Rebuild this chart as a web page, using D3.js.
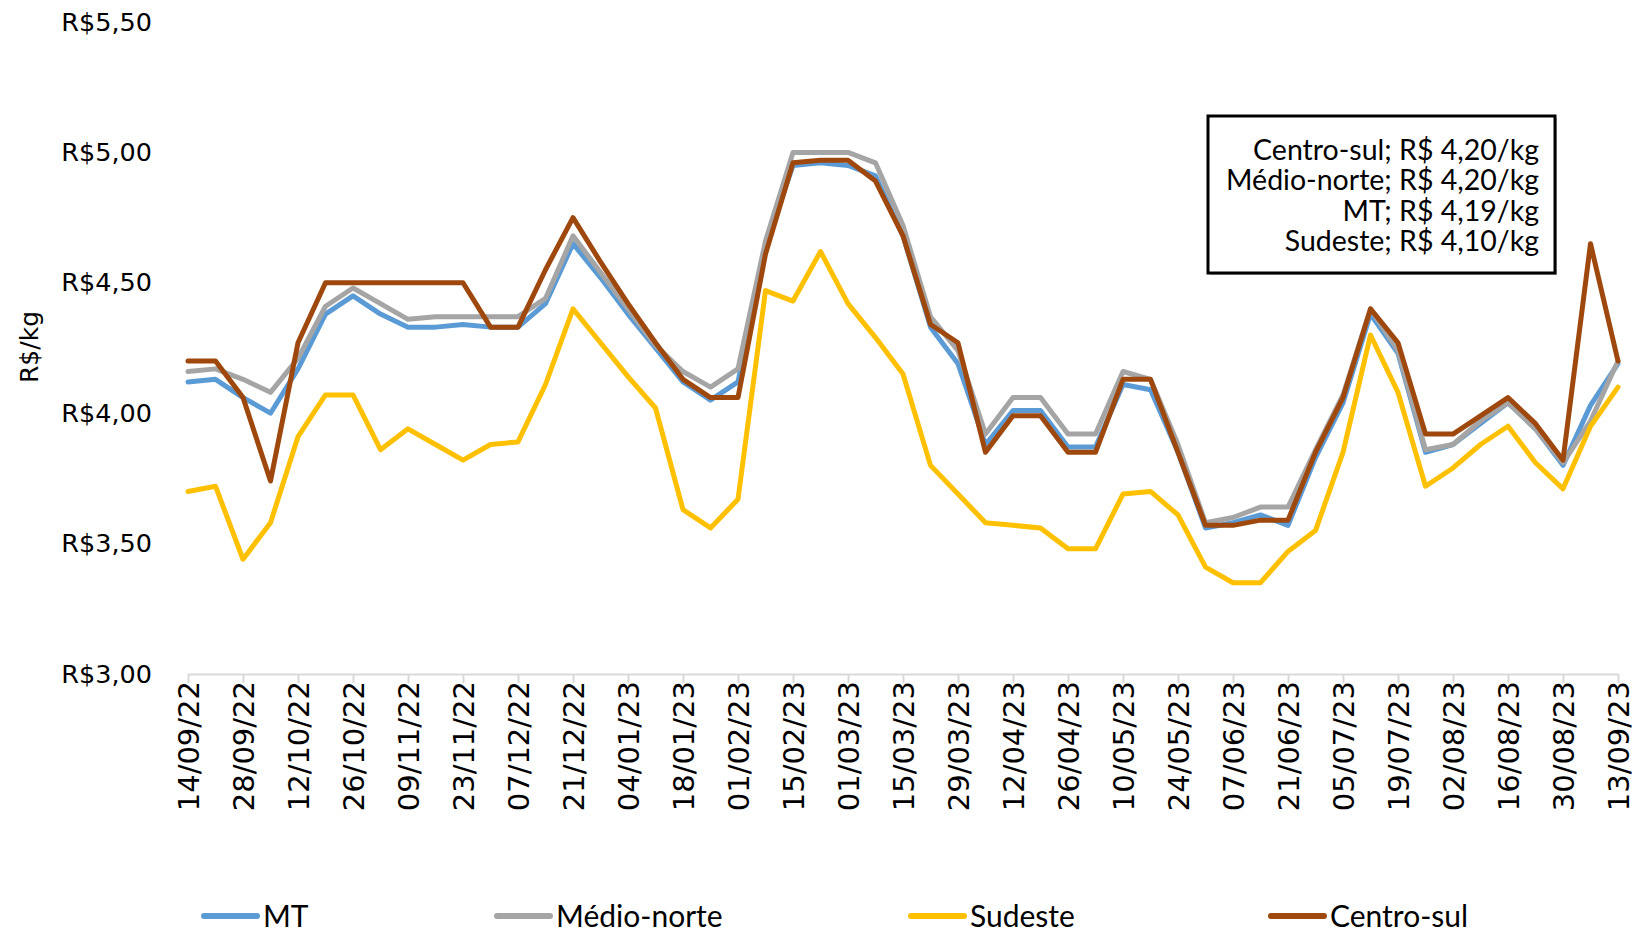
<!DOCTYPE html>
<html>
<head>
<meta charset="utf-8">
<script src="https://cdn.jsdelivr.net/npm/d3@7"></script>
<style>
  body { margin: 0; background: #fff; }
  svg { display: block; }
</style>
</head>
<body>
<svg id="chart"></svg>
<script>
/* data */
let dates = [
  "14/09/22", "21/09/22", "28/09/22", "05/10/22", "12/10/22", "19/10/22", "26/10/22",
  "02/11/22", "09/11/22", "16/11/22", "23/11/22", "30/11/22", "07/12/22", "14/12/22",
  "21/12/22", "28/12/22", "04/01/23", "11/01/23", "18/01/23", "25/01/23", "01/02/23",
  "08/02/23", "15/02/23", "22/02/23", "01/03/23", "08/03/23", "15/03/23", "22/03/23",
  "29/03/23", "05/04/23", "12/04/23", "19/04/23", "26/04/23", "03/05/23", "10/05/23",
  "17/05/23", "24/05/23", "31/05/23", "07/06/23", "14/06/23", "21/06/23", "28/06/23",
  "05/07/23", "12/07/23", "19/07/23", "26/07/23", "02/08/23", "09/08/23", "16/08/23",
  "23/08/23", "30/08/23", "06/09/23", "13/09/23"
];

let mt = [
  4.12, 4.13, 4.06, 4.00, 4.17, 4.38, 4.45, 4.38, 4.33, 4.33, 4.34, 4.33, 4.33, 4.42,
  4.65, 4.52, 4.38, 4.25, 4.12, 4.05, 4.12, 4.64, 4.95, 4.96, 4.95, 4.91, 4.68, 4.33,
  4.19, 3.88, 4.01, 4.01, 3.87, 3.87, 4.11, 4.09, 3.85, 3.56, 3.58, 3.61, 3.57, 3.83,
  4.04, 4.38, 4.23, 3.85, 3.88, 3.96, 4.04, 3.94, 3.80, 4.03, 4.19
];

let medioNorte = [
  4.16, 4.17, 4.13, 4.08, 4.21, 4.41, 4.48, 4.42, 4.36, 4.37, 4.37, 4.37, 4.37, 4.44,
  4.68, 4.54, 4.40, 4.26, 4.16, 4.10, 4.17, 4.66, 5.00, 5.00, 5.00, 4.96, 4.72, 4.37,
  4.24, 3.92, 4.06, 4.06, 3.92, 3.92, 4.16, 4.13, 3.88, 3.58, 3.60, 3.64, 3.64, 3.86,
  4.07, 4.40, 4.24, 3.86, 3.88, 3.97, 4.04, 3.94, 3.81, 3.97, 4.20
];

let sudeste = [
  3.70, 3.72, 3.44, 3.58, 3.91, 4.07, 4.07, 3.86, 3.94, 3.88, 3.82, 3.88, 3.89, 4.11,
  4.40, 4.27, 4.14, 4.02, 3.63, 3.56, 3.67, 4.47, 4.43, 4.62, 4.42, 4.29, 4.15, 3.80,
  3.69, 3.58, 3.57, 3.56, 3.48, 3.48, 3.69, 3.70, 3.61, 3.41, 3.35, 3.35, 3.47, 3.55,
  3.85, 4.30, 4.08, 3.72, 3.79, 3.88, 3.95, 3.81, 3.71, 3.95, 4.10
];

let centroSul = [
  4.20, 4.20, 4.06, 3.74, 4.27, 4.50, 4.50, 4.50, 4.50, 4.50, 4.50, 4.33, 4.33, 4.55,
  4.75, 4.58, 4.42, 4.27, 4.13, 4.06, 4.06, 4.61, 4.96, 4.97, 4.97, 4.89, 4.68, 4.34,
  4.27, 3.85, 3.99, 3.99, 3.85, 3.85, 4.13, 4.13, 3.85, 3.57, 3.57, 3.59, 3.59, 3.85,
  4.06, 4.40, 4.27, 3.92, 3.92, 3.99, 4.06, 3.96, 3.82, 4.65, 4.20
];

let seriesNames = ["MT", "Médio-norte", "Sudeste", "Centro-sul"];
let seriesValues = [mt, medioNorte, sudeste, centroSul];
let seriesColors = ["#5b9bd5", "#a5a5a5", "#ffc000", "#9e480e"];

let yTicks = [3.0, 3.5, 4.0, 4.5, 5.0, 5.5];
let xTicks = dates.filter((d, i) => i % 2 == 0);

// order of the lines inside the annotation box
let boxOrder = ["Centro-sul", "Médio-norte", "MT", "Sudeste"];

/* chart */
!(function() {
  let width = 1636, height = 929;
  let left = 188, right = 1618, top = 22, bottom = 674;

  let svg = d3.select("#chart")
    .attr("width", width)
    .attr("height", height);

  let br = d3.formatLocale({
    decimal: ",", thousands: ".", grouping: [3], currency: ["R$", ""]
  });
  let money = br.format("$.2f");
  let num = br.format(".2f");

  let x = d3.scalePoint()
    .domain(dates)
    .range([left, right]);

  let y = d3.scaleLinear()
    .domain([3, 5.5])
    .range([bottom, top]);

  // y labels, no axis line
  let ya = svg.append("g")
    .attr("transform", "translate(" + left + ",0)")
    .call(d3.axisLeft(y).tickValues(yTicks).tickSize(0).tickPadding(36).tickFormat(money));
  ya.select(".domain").remove();
  ya.selectAll("text")
    .style("font-family", "'DejaVu Sans', Verdana, sans-serif")
    .style("font-size", "25.5px")
    .attr("fill", "#000");

  // x axis
  let xa = svg.append("g")
    .attr("transform", "translate(0," + bottom + ")")
    .call(d3.axisBottom(x).tickValues(xTicks).tickSize(9).tickSizeOuter(0));
  xa.select(".domain").attr("stroke", "#d9d9d9").attr("stroke-width", 2);
  xa.selectAll(".tick line").attr("stroke", "#d9d9d9").attr("stroke-width", 2);
  xa.selectAll("text")
    .attr("transform", "rotate(-90)")
    .attr("x", -7)
    .attr("y", 0)
    .attr("dy", "0.36em")
    .attr("text-anchor", "end")
    .attr("fill", "#000")
    .style("font-family", "'DejaVu Sans', Verdana, sans-serif")
    .style("font-size", "29px");

  // y title
  svg.append("text")
    .attr("transform", "translate(29,347) rotate(-90)")
    .attr("text-anchor", "middle")
    .attr("dy", "0.35em")
    .style("font-family", "'DejaVu Sans', Verdana, sans-serif")
    .style("font-size", "25px")
    .text("R$/kg");

  // lines
  let line = d3.line()
    .x((d, i) => x(dates[i]))
    .y(d => y(d));

  seriesValues.forEach((vals, k) => {
    svg.append("path")
      .datum(vals)
      .attr("d", line)
      .attr("fill", "none")
      .attr("stroke", seriesColors[k])
      .attr("stroke-width", 5)
      .attr("stroke-linejoin", "round")
      .attr("stroke-linecap", "round");
  });

  // annotation box
  let bx = 1208, by = 116, bw = 347, bh = 157;
  svg.append("rect")
    .attr("x", bx + 2).attr("y", by + 2)
    .attr("width", bw).attr("height", bh)
    .attr("fill", "#bfbfbf");
  svg.append("rect")
    .attr("x", bx).attr("y", by)
    .attr("width", bw).attr("height", bh)
    .attr("fill", "#fff")
    .attr("stroke", "#000")
    .attr("stroke-width", 3);

  boxOrder.forEach((name, i) => {
    let vals = seriesValues[seriesNames.indexOf(name)];
    svg.append("text")
      .attr("x", 1539)
      .attr("y", 150 + i * 30.5)
      .attr("dy", "0.35em")
      .attr("text-anchor", "end")
      .style("font-family", "Lato, 'Open Sans', sans-serif")
      .style("font-size", "28.5px")
      .text(name + "; R$ " + num(vals[vals.length - 1]) + "/kg");
  });

  // legend
  let legendX = [204, 497, 911, 1271];
  seriesNames.forEach((name, k) => {
    let g = svg.append("g")
      .attr("transform", "translate(" + legendX[k] + ",916)");
    g.append("line")
      .attr("x1", 0).attr("x2", 53)
      .attr("stroke", seriesColors[k])
      .attr("stroke-width", 6)
      .attr("stroke-linecap", "round");
    g.append("text")
      .attr("x", 59)
      .attr("dy", "0.35em")
      .style("font-family", "Lato, 'Open Sans', sans-serif")
      .style("font-size", "30px")
      .text(name);
  });
})();
</script>
</body>
</html>
